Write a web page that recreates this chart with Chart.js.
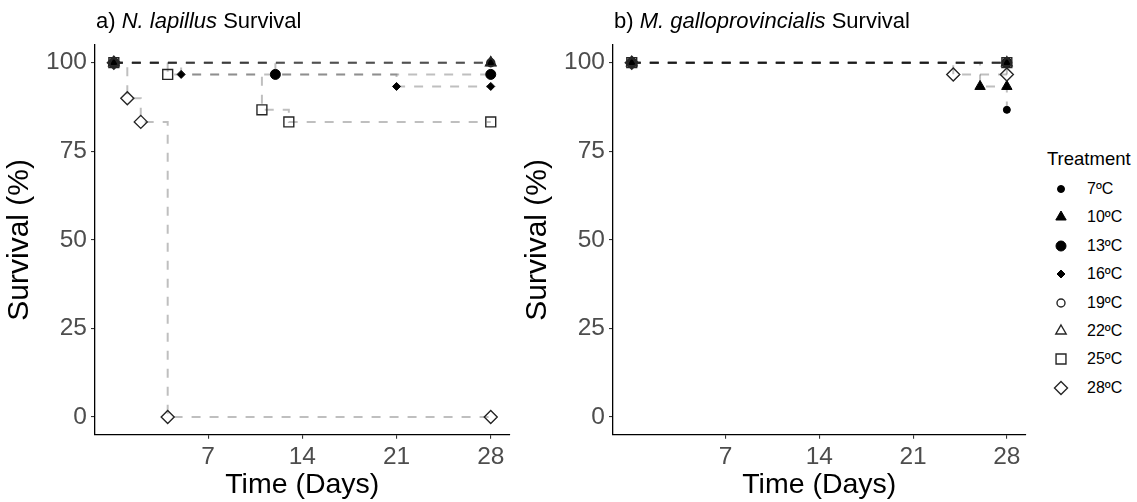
<!DOCTYPE html>
<html>
<head>
<meta charset="utf-8">
<title>Survival by treatment</title>
<script src="https://cdn.jsdelivr.net/npm/chart.js@4.4.0/dist/chart.umd.min.js"></script>
<style>
  body { margin: 0; background: #fff; font-family: 'Liberation Sans', Arial, sans-serif; }
  #wrap { position: relative; width: 1137px; height: 502px; overflow: hidden; background: #fff; }
  .panel { position: absolute; top: 0; height: 502px; }
  .panel-title { position: absolute; top: 7px; font-size: 22px; line-height: 28px; color: #000; white-space: nowrap; }
  #legend { position: absolute; left: 0; top: 0; }
  #legend .ltitle { position: absolute; left: 1047px; top: 147px; font-size: 18.5px; line-height: 24px; color: #000; white-space: nowrap; }
  #legend canvas { position: absolute; }
  #legend .llabel { position: absolute; left: 1087px; font-size: 16px; line-height: 20px; color: #000; white-space: nowrap; }
</style>
</head>
<body>
<div id="wrap">
  <div class="panel" style="left:0; width:518px;"><canvas id="chartA" width="518" height="502"></canvas></div>
  <div class="panel" style="left:518px; width:516px;"><canvas id="chartB" width="516" height="502"></canvas></div>
  <div class="panel-title" style="left:96px;">a) <i>N. lapillus</i> Survival</div>
  <div class="panel-title" style="left:614px;">b) <i>M. galloprovincialis</i> Survival</div>
  <div id="legend"></div>
</div>
<script>
// Treatments and their marker styles
const treatments = ['7ºC', '10ºC', '13ºC', '16ºC', '19ºC', '22ºC', '25ºC', '28ºC'];
const shapes = ['circle', 'triangle', 'circle', 'rectRot', 'circle', 'triangle', 'rect', 'rectRot'];
const sizes = [3.5, 6, 5, 4, 4, 6, 7, 6.5];
const filled = [true, true, true, true, false, false, false, false];

// Axis ticks
const dayTicks = [7, 14, 21, 28];
const survivalTicks = [0, 25, 50, 75, 100];

// N. lapillus: event days and survival (%) per treatment
const lapillusDays = [
  [0, 28], [0, 28], [0, 12, 28], [0, 5, 21, 28],
  [0, 28], [0, 28], [0, 4, 11, 13, 28], [0, 1, 2, 4, 28]
];
const lapillusSurvival = [
  [100, 100], [100, 100], [100, 96.7, 96.7], [100, 96.7, 93.3, 93.3],
  [100, 100], [100, 100], [100, 96.7, 86.7, 83.3, 83.3], [100, 90, 83.3, 0, 0]
];

// M. galloprovincialis: event days and survival (%) per treatment
const musselDays = [
  [0, 28], [0, 26, 28], [0, 28], [0, 28],
  [0, 28], [0, 28], [0, 28], [0, 24, 28]
];
const musselSurvival = [
  [100, 86.7], [100, 93.3, 93.3], [100, 100], [100, 100],
  [100, 100], [100, 100], [100, 100], [100, 96.7, 96.7]
];

const FONT = "'Liberation Sans', Arial, sans-serif";
const lineColor = 'rgba(0, 0, 0, 0.25)';
const openColor = '#262626';

function buildDatasets(days, survival) {
  const sets = [];
  treatments.forEach((name, i) => {
    const pts = days[i].map((d, k) => ({ x: d, y: survival[i][k] }));
    // dashed survival step
    sets.push({
      label: name + ' step',
      data: pts,
      showLine: true,
      stepped: true,
      borderColor: lineColor,
      borderWidth: 2,
      borderDash: [9, 9],
      pointRadius: 0,
      pointHoverRadius: 0,
      fill: false,
      order: 40 - i
    });
    // markers on top of all lines
    sets.push({
      label: name,
      data: pts,
      showLine: false,
      pointStyle: shapes[i],
      pointRadius: sizes[i],
      pointHoverRadius: sizes[i],
      pointBackgroundColor: filled[i] ? '#000' : 'rgba(0,0,0,0)',
      pointBorderColor: filled[i] ? '#000' : openColor,
      pointBorderWidth: filled[i] ? 1 : 1.4,
      order: 20 - i
    });
  });
  return sets;
}

function axisStyle() {
  return {
    grid: { drawOnChartArea: false, drawTicks: true, tickLength: 4, color: '#333', lineWidth: 1.1 },
    border: { display: true, color: '#000', width: 1.3 }
  };
}

function renderChart(canvas, days, survival) {
  return new Chart(canvas, {
    type: 'line',
    data: { datasets: buildDatasets(days, survival) },
    options: {
      responsive: false,
      animation: false,
      events: [],
      layout: { padding: { top: 45, right: 7, bottom: 0, left: 0 } },
      plugins: {
        legend: { display: false },
        tooltip: { enabled: false }
      },
      scales: {
        x: {
          type: 'linear',
          min: -1.4,
          max: 29.4,
          afterBuildTicks: s => { s.ticks = dayTicks.map(v => ({ value: v })); },
          afterFit: s => { s.height = 67.3; },
          ...axisStyle(),
          ticks: { color: '#4d4d4d', font: { size: 24.5, family: FONT }, padding: 4, maxRotation: 0, autoSkip: false },
          title: { display: true, text: 'Time (Days)', color: '#000', font: { size: 28.5, family: FONT }, padding: { top: 0, bottom: 0 } }
        },
        y: {
          type: 'linear',
          min: -5,
          max: 105,
          afterBuildTicks: s => { s.ticks = survivalTicks.map(v => ({ value: v })); },
          afterFit: s => { s.width = 95; },
          ...axisStyle(),
          ticks: { color: '#4d4d4d', font: { size: 24.5, family: FONT }, padding: 4 },
          title: { display: true, text: 'Survival (%)', color: '#000', font: { size: 30, family: FONT }, padding: { top: 2, bottom: 0 } }
        }
      }
    }
  });
}

// Treatment key beside the right panel
function renderLegend() {
  const box = document.getElementById('legend');
  const title = document.createElement('div');
  title.className = 'ltitle';
  title.textContent = 'Treatment';
  box.appendChild(title);

  treatments.forEach((name, i) => {
    const cy = 189 + i * 28.4;
    const c = document.createElement('canvas');
    c.width = 20; c.height = 20;
    c.style.left = '1051px';
    c.style.top = (cy - 10) + 'px';
    const ctx = c.getContext('2d');
    ctx.fillStyle = filled[i] ? '#000' : 'rgba(0,0,0,0)';
    ctx.strokeStyle = filled[i] ? '#000' : openColor;
    ctx.lineWidth = filled[i] ? 1 : 1.4;
    Chart.helpers.drawPoint(ctx, { pointStyle: shapes[i], rotation: 0, radius: sizes[i], borderWidth: ctx.lineWidth }, 10, 10);
    box.appendChild(c);

    const label = document.createElement('div');
    label.className = 'llabel';
    label.style.top = (cy - 10) + 'px';
    label.textContent = name;
    box.appendChild(label);
  });
}

renderChart(document.getElementById('chartA'), lapillusDays, lapillusSurvival);
renderChart(document.getElementById('chartB'), musselDays, musselSurvival);
renderLegend();
</script>
</body>
</html>
